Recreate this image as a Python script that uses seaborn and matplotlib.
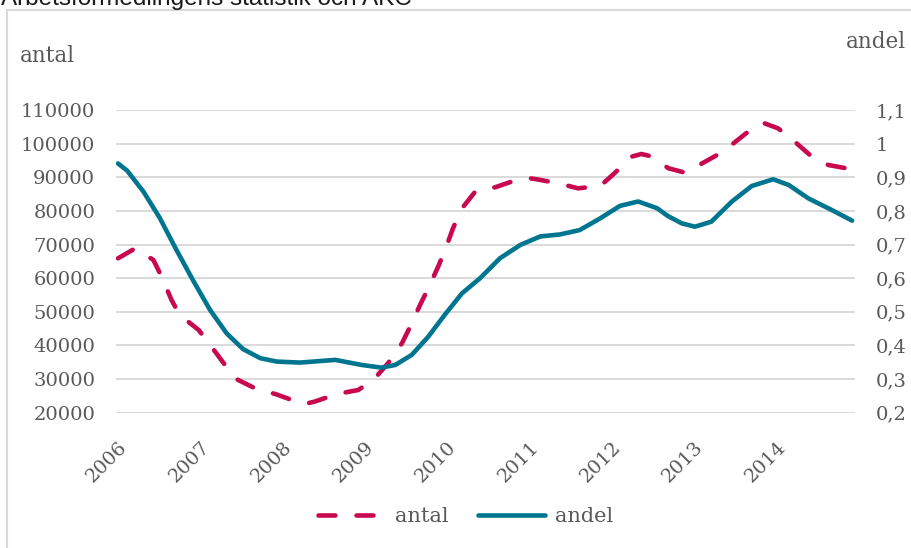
import matplotlib
matplotlib.use("Agg")
import matplotlib.pyplot as plt
import seaborn as sns
import pandas as pd
from matplotlib.patches import Rectangle
from matplotlib.ticker import FixedLocator

# ---- data ----
antal_year = [2006.00, 2006.21, 2006.43, 2006.53, 2006.65, 2006.75, 2006.98, 2007.12,
              2007.30, 2007.42, 2007.69, 2007.91, 2008.19, 2008.27, 2008.39, 2008.66,
              2008.92, 2009.12, 2009.28, 2009.45, 2009.55, 2009.67, 2009.77, 2009.89,
              2009.99, 2010.07, 2010.18, 2010.34, 2010.46, 2010.58, 2010.84, 2011.01,
              2011.09, 2011.35, 2011.59, 2011.86, 2012.04, 2012.24, 2012.36, 2012.46,
              2012.69, 2012.89, 2013.15, 2013.35, 2013.58, 2013.76, 2013.86, 2014.02,
              2014.20, 2014.43, 2014.63, 2014.92]
antal = [65900, 68870, 65400, 60450, 53520, 49050, 44600, 40130,
         34200, 30220, 26950, 25570, 23100, 22600, 23300, 25570,
         26750, 30220, 34680, 40630, 45590, 52030, 57000, 63420,
         69370, 74820, 80770, 85720, 86700, 87000, 89190, 89680,
         89390, 88200, 86710, 87400, 91370, 96130, 96920, 96330,
         92660, 91370, 94840, 97610, 102070, 105540, 106000, 104550,
         101080, 96130, 93650, 92360]

andel_year = [2006.00, 2006.11, 2006.31, 2006.51, 2006.71, 2006.92, 2007.12, 2007.32,
              2007.52, 2007.73, 2007.93, 2008.21, 2008.64, 2008.96, 2009.20, 2009.37,
              2009.57, 2009.77, 2009.97, 2010.18, 2010.40, 2010.64, 2010.89, 2011.13,
              2011.37, 2011.61, 2011.86, 2012.10, 2012.32, 2012.55, 2012.68, 2012.85,
              2013.01, 2013.21, 2013.46, 2013.70, 2013.96, 2014.15, 2014.39, 2014.67,
              2014.92]
andel = [0.941, 0.920, 0.857, 0.778, 0.684, 0.590, 0.505, 0.436,
         0.389, 0.362, 0.352, 0.349, 0.357, 0.342, 0.334, 0.342,
         0.372, 0.426, 0.491, 0.555, 0.600, 0.659, 0.699, 0.724,
         0.730, 0.743, 0.778, 0.815, 0.828, 0.808, 0.785, 0.763,
         0.753, 0.768, 0.828, 0.874, 0.894, 0.877, 0.837, 0.803,
         0.771]

years = [2006, 2007, 2008, 2009, 2010, 2011, 2012, 2013, 2014]
left_ticks = [20000, 30000, 40000, 50000, 60000, 70000, 80000, 90000, 100000, 110000]
right_ticks = [0.2, 0.3, 0.4, 0.5, 0.6, 0.7, 0.8, 0.9, 1.0, 1.1]
right_labels = ["0,2", "0,3", "0,4", "0,5", "0,6", "0,7", "0,8", "0,9", "1", "1,1"]

RED = "#C8084F"
TEAL = "#00758F"
GRID = "#D9D9D9"
TXT = "#595959"

sns.set_style("white")
plt.rcParams["font.family"] = ["DejaVu Serif"]

df_antal = pd.DataFrame({"year": antal_year, "value": antal})
df_andel = pd.DataFrame({"year": andel_year, "value": andel})

W, H = 912, 548
fig = plt.figure(figsize=(W / 100, H / 100), dpi=100)
L, R, T, B = 116, 855, 110, 412.7
ax = fig.add_axes([L / W, 1 - B / H, (R - L) / W, (B - T) / H])
ax2 = ax.twinx()

sns.lineplot(data=df_antal, x="year", y="value", ax=ax, color=RED, lw=3.3,
             dashes=False, label="antal", legend=False, zorder=3)
ln_antal = ax.lines[-1]
ln_antal.set_dashes((3.7, 4.6))
ln_antal.set_dash_capstyle("round")
ln_antal.set_dash_joinstyle("round")

sns.lineplot(data=df_andel, x="year", y="value", ax=ax2, color=TEAL, lw=3.3,
             label="andel", legend=False, zorder=3)
ln_andel = ax2.lines[-1]
ln_andel.set_solid_capstyle("round")
ln_andel.set_solid_joinstyle("round")

x0 = 2006 - 2 / 82.3
x1 = 2006 + (855 - 118) / 82.3
ax.set_xlim(x0, x1)
ax.set_ylim(20000, 110000)
ax2.set_ylim(0.2, 1.1)

ax.yaxis.set_major_locator(FixedLocator(left_ticks))
ax.set_yticklabels([str(v) for v in left_ticks])
ax2.yaxis.set_major_locator(FixedLocator(right_ticks))
ax2.set_yticklabels(right_labels)
ax.set_xticks(years)
ax.set_xticklabels([str(y) for y in years], rotation=45, ha="right",
                   va="top", rotation_mode="anchor")

ax.set_xlabel("")
ax.set_ylabel("")
ax2.set_ylabel("")

for a in (ax, ax2):
    for s in a.spines.values():
        s.set_visible(False)
    a.tick_params(length=0, colors=TXT, labelsize=14)
ax.tick_params(axis="y", pad=15)
ax2.tick_params(axis="y", pad=15)
ax.tick_params(axis="x", pad=18)

ax.grid(axis="y", color=GRID, lw=1.4)
ax.grid(axis="x", visible=False)
ax2.grid(False)
ax.set_axisbelow(True)

# axis titles
fig.text(20 / W, 1 - 62 / H, "antal", fontsize=15.5, color=TXT, ha="left", va="baseline")
fig.text(906 / W, 1 - 48 / H, "andel", fontsize=15.5, color=TXT, ha="right", va="baseline")

# heading above the chart frame (clipped at the top edge, as in the reference)
fig.text(1 / W, 1 - 5 / H, "Arbetsförmedlingens statistik och AKC", fontsize=17.5,
         color="#1a1a1a", ha="left", va="baseline", family=["Liberation Sans", "DejaVu Sans"])

# chart frame
fig.add_artist(Rectangle((7 / W, -0.05), 1.0, 1.05 - 10 / H, transform=fig.transFigure,
                         fill=False, edgecolor=GRID, lw=1.5))

leg = fig.legend(handles=[ln_antal, ln_andel], labels=["antal", "andel"],
                 loc="center", bbox_to_anchor=(466 / W, 1 - 517 / H), ncol=2,
                 frameon=False, fontsize=15, handlelength=3.2, columnspacing=1.4,
                 handletextpad=0.5)
for t in leg.get_texts():
    t.set_color(TXT)

fig.savefig("out.png", dpi=100)
